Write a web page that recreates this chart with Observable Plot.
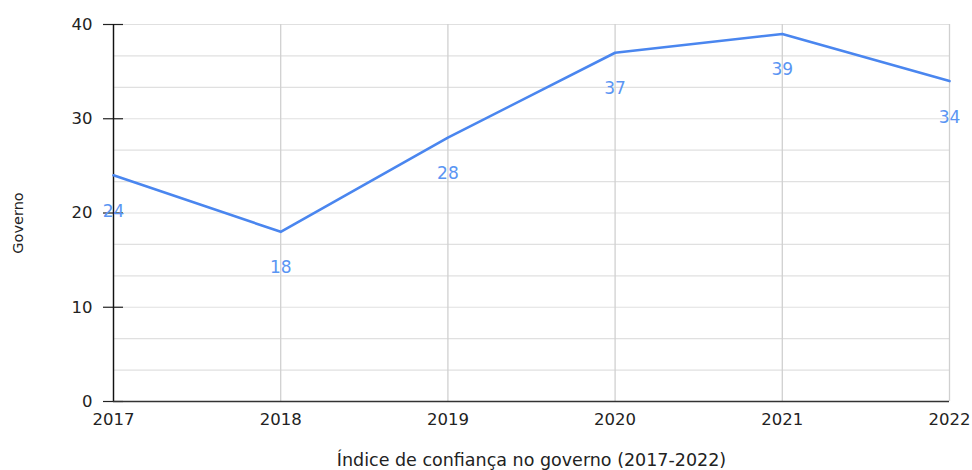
<!DOCTYPE html>
<html>
<head>
<meta charset="utf-8">
<script src="https://cdn.jsdelivr.net/npm/d3@7"></script>
<script src="https://cdn.jsdelivr.net/npm/@observablehq/plot@0.6"></script>
<style>
  html, body { margin: 0; padding: 0; background: #fff; }
  #chart svg { display: block; }
</style>
</head>
<body>
<div id="chart"></div>
<script>
const years = [2017, 2018, 2019, 2020, 2021, 2022];
const values = [24, 18, 28, 37, 39, 34];
const yTicks = [0, 10, 20, 30, 40];
const yGrid = d3.range(0, 13).map(i => i * 10 / 3);
const xTitle = "Índice de confiança no governo (2017-2022)";
const yTitle = "Governo";

const data = years.map((y, i) => ({year: y, value: values[i]}));
const font = "DejaVu Sans, Liberation Sans, Arial, sans-serif";

const chart = Plot.plot({
  width: 972,
  height: 470,
  marginLeft: 113,
  marginRight: 23,
  marginTop: 24,
  marginBottom: 69,
  style: {fontFamily: font, fontSize: "16px", color: "#222", background: "#fff"},
  x: {type: "linear", domain: [2017, 2022]},
  y: {domain: [0, 40]},
  marks: [
    Plot.ruleY(yGrid, {stroke: "#e0e0e0", strokeWidth: 1.2, strokeOpacity: 1}),
    Plot.ruleX(years, {stroke: "#d0d0d0", strokeWidth: 1.3}),
    Plot.ruleY(yTicks, {x1: 2017, x2: 2017, insetLeft: -10, insetRight: -10, stroke: "#222", strokeWidth: 1.2}),
    Plot.axisY({ticks: yTicks, tickSize: 0, tickPadding: 21, label: null, fontSize: 16.5, fill: "#222"}),
    Plot.axisX({ticks: years, tickFormat: "d", tickSize: 0, tickPadding: 12, label: null, fontSize: 16.5, fill: "#222"}),
    Plot.ruleX([2017], {stroke: "#111", strokeWidth: 1.4}),
    Plot.ruleY([0], {stroke: "#333", strokeWidth: 1.4}),
    Plot.line(data, {x: "year", y: "value", stroke: "#4a86ef", strokeWidth: 2.6}),
    Plot.text(data, {x: "year", y: "value", text: d => String(d.value), dy: 36, fill: "#5a95f3", fontSize: 17}),
    Plot.text([yTitle], {frameAnchor: "left", textAnchor: "middle", rotate: -90, dx: -95, dy: 10, fontSize: 14.5, fill: "#222"}),
    Plot.text([xTitle], {frameAnchor: "bottom", dy: 64, fontSize: 17.5, fill: "#222"})
  ]
});
document.getElementById("chart").appendChild(chart);
</script>
</body>
</html>
